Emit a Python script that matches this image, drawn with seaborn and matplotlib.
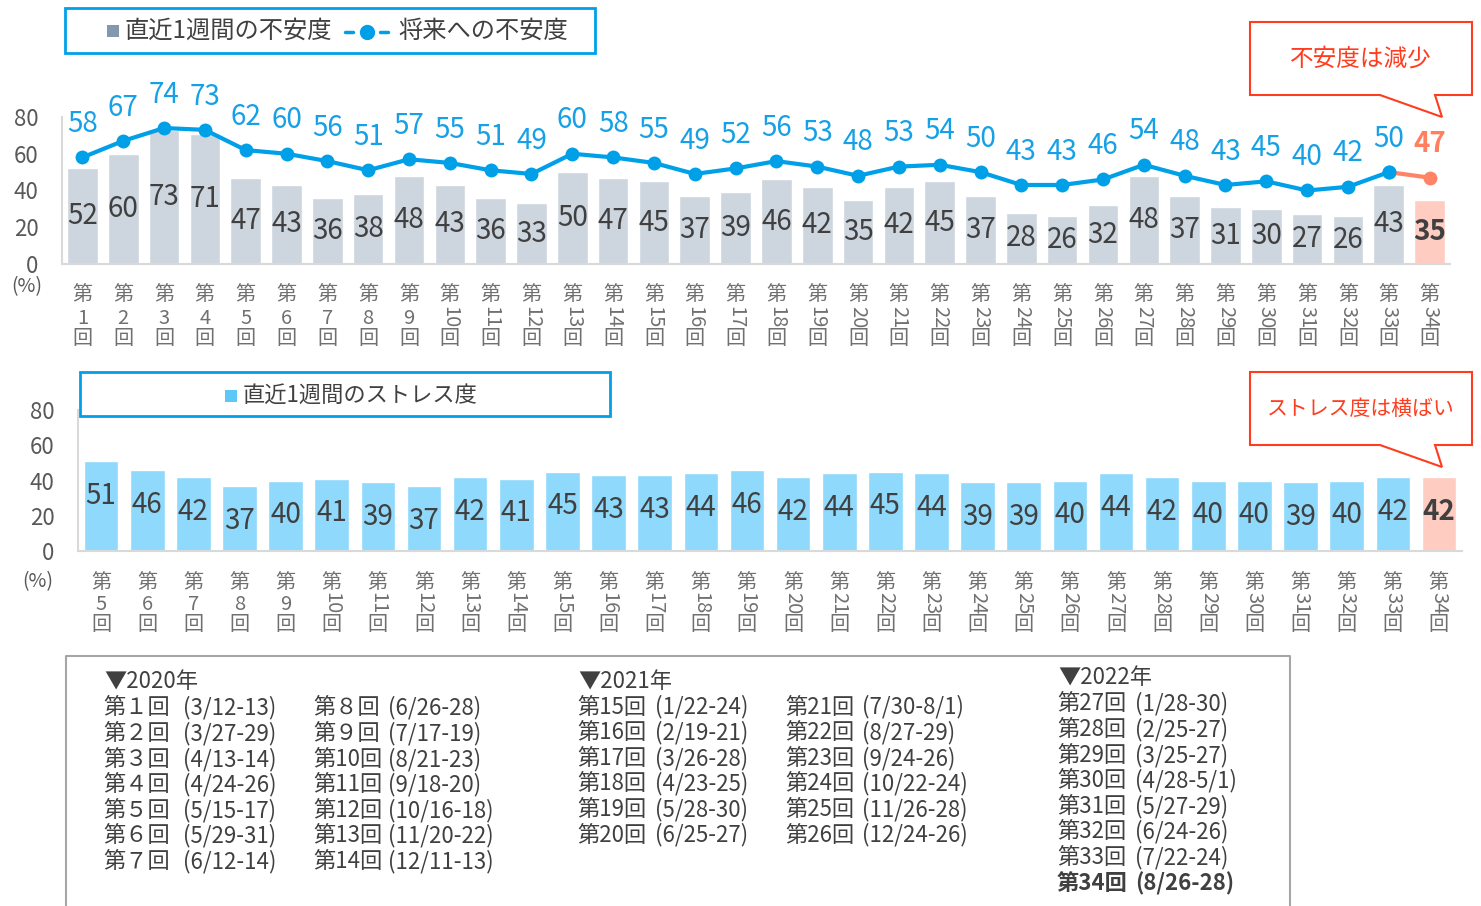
import numpy as np
import pandas as pd
import seaborn as sns
import matplotlib.pyplot as plt
from matplotlib.patches import Rectangle, Polygon
from matplotlib.lines import Line2D

# survey rounds and values (%)
rounds_top = list(range(1, 35))
anxiety_week = [52, 60, 73, 71, 47, 43, 36, 38, 48, 43,
                36, 33, 50, 47, 45, 37, 39, 46, 42, 35,
                42, 45, 37, 28, 26, 32, 48, 37, 31, 30,
                27, 26, 43, 35]
anxiety_future = [58, 67, 74, 73, 62, 60, 56, 51, 57, 55,
                  51, 49, 60, 58, 55, 49, 52, 56, 53, 48,
                  53, 54, 50, 43, 43, 46, 54, 48, 43, 45,
                  40, 42, 50, 47]
rounds_bottom = list(range(5, 35))
stress_week = [51, 46, 42, 37, 40, 41, 39, 37, 42, 41,
               45, 43, 43, 44, 46, 42, 44, 45, 44, 39,
               39, 40, 44, 42, 40, 40, 39, 40, 42, 42]

dates_2020 = [("第１回", "(3/12-13)"), ("第２回", "(3/27-29)"), ("第３回", "(4/13-14)"),
              ("第４回", "(4/24-26)"), ("第５回", "(5/15-17)"), ("第６回", "(5/29-31)"),
              ("第７回", "(6/12-14)"), ("第８回", "(6/26-28)"), ("第９回", "(7/17-19)"),
              ("第10回", "(8/21-23)"), ("第11回", "(9/18-20)"), ("第12回", "(10/16-18)"),
              ("第13回", "(11/20-22)"), ("第14回", "(12/11-13)")]
dates_2021 = [("第15回", "(1/22-24)"), ("第16回", "(2/19-21)"), ("第17回", "(3/26-28)"),
              ("第18回", "(4/23-25)"), ("第19回", "(5/28-30)"), ("第20回", "(6/25-27)"),
              ("第21回", "(7/30-8/1)"), ("第22回", "(8/27-29)"), ("第23回", "(9/24-26)"),
              ("第24回", "(10/22-24)"), ("第25回", "(11/26-28)"), ("第26回", "(12/24-26)")]
dates_2022 = [("第27回", "(1/28-30)"), ("第28回", "(2/25-27)"), ("第29回", "(3/25-27)"),
              ("第30回", "(4/28-5/1)"), ("第31回", "(5/27-29)"), ("第32回", "(6/24-26)"),
              ("第33回", "(7/22-24)"), ("第34回", "(8/26-28)")]

sns.set_theme(style="white")
plt.rcParams['font.family'] = ['Noto Sans CJK JP', 'DejaVu Sans']

W, H = 1481, 906
def fx(x):
    return x / W
def fy(y):
    return 1 - y / H

BAR_GRAY = "#CDD5DF"
BAR_BLUE = "#8FD9FC"
BAR_LAST = "#FFCCC1"
LINE_BLUE = "#00A0E9"
LINE_LAST = "#FF8466"
TXT = "#404040"
AXC = "#595959"
RED = "#FF3C1E"

fig = plt.figure(figsize=(W / 100, H / 100), dpi=100)


def style_axis(ax, n):
    ax.set_ylim(0, 80)
    ax.set_xlim(-0.5, n - 0.5)
    ax.set_yticks([0, 20, 40, 60, 80])
    ax.set_xticks([])
    ax.set_xlabel("")
    ax.set_ylabel("")
    for s in ["top", "right"]:
        ax.spines[s].set_visible(False)
    for s in ["left", "bottom"]:
        ax.spines[s].set_color("#D9D9D9")
        ax.spines[s].set_linewidth(1.5)
    ax.tick_params(axis="y", length=0, pad=17, labelsize=16, labelcolor=AXC)
    ax.patch.set_alpha(0)


def round_ticks(ax, rounds, y_top, y_mid, y_bot):
    # vertical "第 n 回" labels under each bar
    kw = dict(ha="center", va="center", fontsize=14.5, color="#707070",
              xycoords=("data", "figure fraction"))
    for i, r in enumerate(rounds):
        ax.annotate("第", (i, fy(y_top)), **kw)
        if r < 10:
            ax.annotate(str(r), (i, fy(y_mid)), **kw)
        else:
            ax.annotate(str(r), (i, fy(y_mid - 1)), rotation=270, **kw)
        ax.annotate("回", (i, fy(y_bot)), **kw)


# ---------------- top chart: anxiety ----------------
ax1 = fig.add_axes([fx(62), fy(264), (1450 - 62) / W, 147 / H])
df_top = pd.DataFrame({"round": [f"第{r}回" for r in rounds_top],
                       "week": anxiety_week, "future": anxiety_future})
top_colors = [BAR_GRAY] * (len(rounds_top) - 1) + [BAR_LAST]
sns.barplot(data=df_top, x="round", y="week", hue="round", palette=top_colors,
            legend=False, width=0.75, saturation=1, ax=ax1)
pos = np.arange(len(rounds_top))
sns.lineplot(x=pos[:-1], y=anxiety_future[:-1], color=LINE_BLUE, linewidth=3,
             marker="o", markersize=10, markeredgewidth=0, ax=ax1)
sns.lineplot(x=pos[-2:], y=anxiety_future[-2:], color=LINE_LAST, linewidth=3, ax=ax1)
ax1.plot(pos[-1], anxiety_future[-1], "o", color=LINE_LAST, markersize=10, markeredgewidth=0)
ax1.plot(pos[-2], anxiety_future[-2], "o", color=LINE_BLUE, markersize=10, markeredgewidth=0, zorder=5)
style_axis(ax1, len(rounds_top))

for i, v in enumerate(anxiety_week):
    last = i == len(anxiety_week) - 1
    ax1.text(i, v / 2, str(v), ha="center", va="center", fontsize=20, color=TXT,
             fontweight="bold" if last else "normal")
for i, v in enumerate(anxiety_future):
    last = i == len(anxiety_future) - 1
    ax1.annotate(str(v), (i, v), xytext=(0, 24), textcoords="offset points",
                 ha="center", va="center", fontsize=20,
                 color="#FF7F5F" if last else "#16A0E6",
                 fontweight="bold" if last else "normal")
round_ticks(ax1, rounds_top, 295, 318, 338)
fig.text(fx(27), fy(287), "(%)", ha="center", va="center", fontsize=14, color=AXC)

# ---------------- bottom chart: stress ----------------
ax2 = fig.add_axes([fx(78), fy(551), (1462 - 78) / W, 141 / H])
df_bot = pd.DataFrame({"round": [f"第{r}回" for r in rounds_bottom], "stress": stress_week})
bot_colors = [BAR_BLUE] * (len(rounds_bottom) - 1) + [BAR_LAST]
sns.barplot(data=df_bot, x="round", y="stress", hue="round", palette=bot_colors,
            legend=False, width=0.75, saturation=1, ax=ax2)
style_axis(ax2, len(rounds_bottom))
for i, v in enumerate(stress_week):
    last = i == len(stress_week) - 1
    ax2.annotate(str(v), (i, v), xytext=(0, -25), textcoords="offset points",
                 ha="center", va="center", fontsize=20, color=TXT,
                 fontweight="bold" if last else "normal")
round_ticks(ax2, rounds_bottom, 582, 604, 625)
fig.text(fx(38), fy(582), "(%)", ha="center", va="center", fontsize=14, color=AXC)

# ---------------- legends ----------------
fig.add_artist(Rectangle((fx(65), fy(53)), (595 - 65) / W, 45 / H, transform=fig.transFigure,
                         fill=False, edgecolor=LINE_BLUE, lw=2))
fig.add_artist(Rectangle((fx(107), fy(37)), 12 / W, 12 / H, transform=fig.transFigure,
                         facecolor="#8497B0", edgecolor="none"))
fig.text(fx(125), fy(31), "直近1週間の不安度", ha="left", va="center", fontsize=17.5, color=TXT)
fig.add_artist(Line2D([fx(345), fx(353)], [fy(32), fy(32)], transform=fig.transFigure,
                      color=LINE_BLUE, lw=2.5))
fig.add_artist(Line2D([fx(380), fx(388)], [fy(32), fy(32)], transform=fig.transFigure,
                      color=LINE_BLUE, lw=2.5))
fig.add_artist(Line2D([fx(367)], [fy(32)], transform=fig.transFigure, marker="o",
                      color=LINE_BLUE, markersize=11, markeredgewidth=0))
fig.text(fx(398), fy(31), "将来への不安度", ha="left", va="center", fontsize=17.5, color=TXT)

fig.add_artist(Rectangle((fx(80), fy(416)), (610 - 80) / W, 44 / H, transform=fig.transFigure,
                         facecolor="white", edgecolor=LINE_BLUE, lw=2, zorder=3))
fig.add_artist(Rectangle((fx(225), fy(402)), 12 / W, 12 / H, transform=fig.transFigure,
                         facecolor="#5BC8F7", edgecolor="none", zorder=4))
fig.text(fx(243), fy(395), "直近1週間のストレス度", ha="left", va="center", fontsize=16,
         color=TXT, zorder=5)

# ---------------- callouts ----------------
def callout(top, text, size):
    pts = [(1250, top), (1472, top), (1472, top + 73), (1435, top + 73),
           (1442, top + 95), (1380, top + 73), (1250, top + 73)]
    fig.add_artist(Polygon([(fx(x), fy(y)) for x, y in pts], closed=True,
                           transform=fig.transFigure, facecolor="white",
                           edgecolor=RED, lw=1.5, zorder=3))
    fig.text(fx(1361), fy(top + 37), text, ha="center", va="center", fontsize=size,
             color=RED, zorder=4)

callout(22, "不安度は減少", 17)
callout(372, "ストレス度は横ばい", 15)

# ---------------- survey dates table ----------------
fig.add_artist(Line2D([fx(66), fx(66), fx(1290), fx(1290)],
                      [fy(910), fy(656), fy(656), fy(910)], transform=fig.transFigure,
                      color="#A6A6A6", lw=1.5))
TS = 16


def date_col(items, x_round, x_date, y0, step=25.6, bold_last=False):
    for k, (r, d) in enumerate(items):
        w = "bold" if (bold_last and k == len(items) - 1) else "normal"
        y = fy(y0 + k * step)
        fig.text(fx(x_round), y, r, ha="left", va="center", fontsize=TS, color=TXT, fontweight=w)
        fig.text(fx(x_date), y, d, ha="left", va="center", fontsize=TS, color=TXT, fontweight=w)


fig.text(fx(104), fy(682), "▼2020年", ha="left", va="center", fontsize=TS, color=TXT)
date_col(dates_2020[:7], 103, 183, 708)
date_col(dates_2020[7:], 313, 388, 708)
fig.text(fx(578), fy(681), "▼2021年", ha="left", va="center", fontsize=TS, color=TXT)
date_col(dates_2021[:6], 577, 655, 707)
date_col(dates_2021[6:], 785, 862, 707)
fig.text(fx(1058), fy(678), "▼2022年", ha="left", va="center", fontsize=TS, color=TXT)
date_col(dates_2022, 1057, 1135, 704, bold_last=True)

fig.savefig("out.png", dpi=100)
